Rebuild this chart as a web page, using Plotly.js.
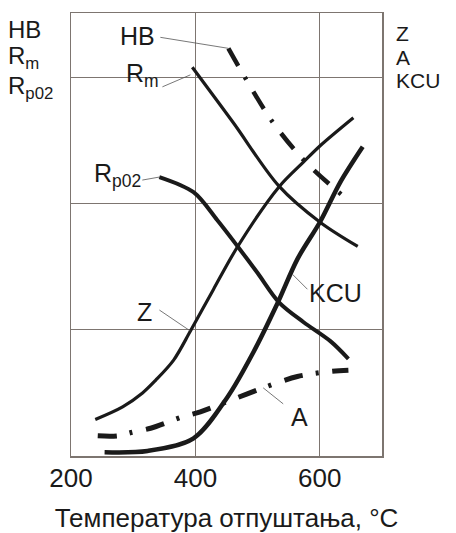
<!DOCTYPE html>
<html>
<head>
<meta charset="utf-8">
<script src="https://cdn.plot.ly/plotly-3.0.1.min.js"></script>
<style>html,body{margin:0;padding:0;background:#fff;}#chart{width:456px;height:533px;}</style>
</head>
<body>
<div id="chart"></div>
<script>
// Temperature (°C) and relative property values (unitless scale, grid = 1 unit)
var HB_T = [453, 482, 525, 577, 640];
var HB = [3.23, 2.98, 2.64, 2.33, 2.05];

var Rm_T = [395, 461, 534, 601, 661];
var Rm = [3.08, 2.64, 2.14, 1.85, 1.66];

var Rp02_T = [342, 397, 435, 468, 500, 534, 574, 617, 646];
var Rp02 = [2.21, 2.09, 1.87, 1.66, 1.45, 1.22, 1.06, 0.91, 0.77];

var Z_T = [239, 283, 315, 336, 365, 392, 429, 468, 534, 574, 601, 654];
var Z = [0.29, 0.39, 0.50, 0.60, 0.76, 0.99, 1.32, 1.66, 2.13, 2.33, 2.46, 2.68];

var KCU_T = [254, 323, 397, 452, 493, 532, 564, 601, 633, 669];
var KCU = [0.03, 0.04, 0.14, 0.47, 0.82, 1.21, 1.56, 1.86, 2.17, 2.45];

var A_T = [243, 275, 300, 328, 379, 408, 456, 509, 564, 617, 646];
var A = [0.16, 0.16, 0.19, 0.22, 0.31, 0.35, 0.44, 0.54, 0.63, 0.67, 0.68];

var tickVals = [200, 400, 600];
var tickText = ['200', '400', '600'];
var xTitle = 'Температура отпуштања, °C';

var ink = '#1a1a1a';
var FONT = 'Liberation Sans, Arial, sans-serif';

function tr(x, y, w, dash) {
  return {x: x, y: y, type: 'scatter', mode: 'lines', hoverinfo: 'skip', showlegend: false,
          line: {color: ink, width: w, shape: 'spline', smoothing: 0.9, dash: dash || 'solid'}};
}
var data = [
  tr(HB_T, HB, 4.5, '20px,13px,3px,14px'),
  tr(Rm_T, Rm, 3.2),
  tr(Rp02_T, Rp02, 4),
  tr(Z_T, Z, 3.2),
  tr(KCU_T, KCU, 4.5),
  tr(A_T, A, 5, '19px,13px,3px,14px')
];

// leader lines: from a point on the curve to a tail given in pixel offsets (dx right, dy down)
function leader(x, y, dx, dy) {
  return {type: 'line', xref: 'x', yref: 'y', xsizemode: 'pixel', ysizemode: 'pixel',
          xanchor: x, yanchor: y, x0: 0, y0: 0, x1: dx, y1: -dy,
          line: {color: '#555', width: 0.8}};
}
function label(x, y, text, xs, ys) {
  return {x: x, y: y, xref: 'x', yref: 'y', text: text, showarrow: false,
          xanchor: 'left', yanchor: 'top', xshift: xs, yshift: ys,
          font: {family: FONT, size: 25, color: ink}};
}
function side(x, text, xs, ys, sz) {
  return {x: x, y: 1, xref: 'paper', yref: 'paper', text: text, showarrow: false,
          xanchor: 'left', yanchor: 'top', xshift: xs, yshift: ys, borderpad: 0,
          font: {family: FONT, size: sz, color: ink}};
}

var shapes = [
  leader(HB_T[0], HB[0], -68, -11),
  leader(392, 3.02, -28, 12),
  leader(Rp02_T[0], Rp02[0], -17, 3),
  leader(Z_T[5], Z[5], -31, -21),
  leader(556, 1.44, 15, 15),
  leader(A_T[7], A[7], 20, 16)
];

var annotations = [
  label(HB_T[0], HB[0], 'HB', -110, 28),
  label(392, 3.02, 'R<sub>m</sub>', -66, 18),
  label(Rp02_T[0], Rp02[0], 'R<sub>p02</sub>', -67, 20),
  label(Z_T[5], Z[5], 'Z', -55, 35),
  label(556, 1.44, 'KCU', 15, -3),
  label(A_T[7], A[7], 'A', 26, -13),
  side(0, 'HB', -64, -1.5, 24),
  side(0, 'R<sub>m</sub>', -64, -27.5, 24),
  side(0, 'R<sub>p02</sub>', -64, -57.5, 24),
  side(1, 'Z', 13, -8, 21),
  side(1, 'A', 13, -31.5, 21),
  side(1, 'KCU', 13, -55, 21)
];

var grid = '#7d7570';
var layout = {
  width: 456, height: 533,
  margin: {l: 71, r: 74, t: 13, b: 77},
  paper_bgcolor: '#ffffff', plot_bgcolor: '#ffffff',
  showlegend: false,
  font: {family: FONT, color: ink},
  xaxis: {
    range: [200, 700], tickvals: tickVals, ticktext: tickText,
    showgrid: true, gridcolor: grid, gridwidth: 1,
    showline: true, mirror: true, linecolor: grid, linewidth: 1.5,
    zeroline: false, ticks: '', ticklabelstandoff: -2,
    tickfont: {family: FONT, size: 26, color: ink},
    title: {text: xTitle, font: {family: FONT, size: 26, color: ink}, standoff: 20}
  },
  yaxis: {
    range: [0, 3.51], tick0: 0, dtick: 1, showticklabels: false,
    showgrid: true, gridcolor: grid, gridwidth: 1,
    showline: true, mirror: true, linecolor: grid, linewidth: 1.5,
    zeroline: false, ticks: ''
  },
  shapes: shapes,
  annotations: annotations
};

Plotly.newPlot('chart', data, layout, {staticPlot: true, displayModeBar: false});
</script>
</body>
</html>
